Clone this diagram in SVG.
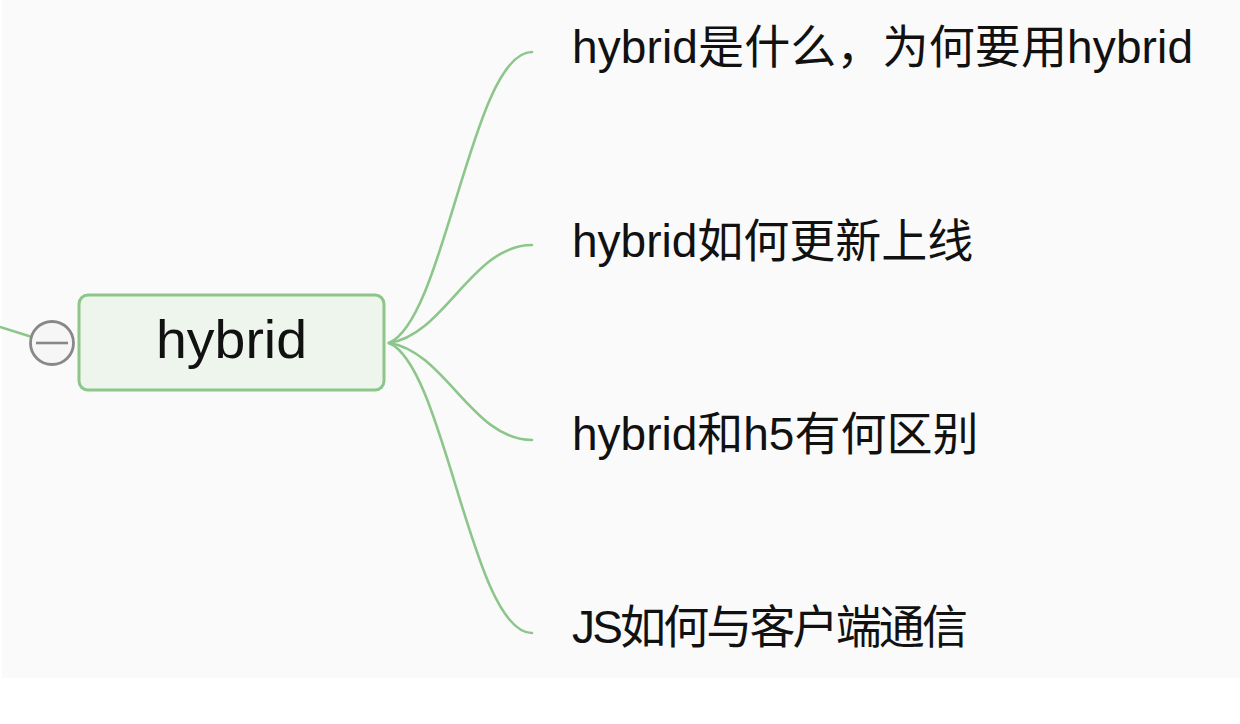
<svg xmlns="http://www.w3.org/2000/svg" width="1240" height="724" viewBox="0 0 1240 724">
  <style>
    .conn { fill: none; stroke: #8cc68a; stroke-width: 2.6; stroke-linecap: round; }
    .label { font-family: "Liberation Sans", "Noto Sans CJK SC", sans-serif; font-size: 46px; fill: #111; }
    .title { font-family: "Liberation Sans", "Noto Sans CJK SC", sans-serif; font-size: 53px; fill: #111; text-anchor: middle; }
  </style>
  <rect x="0" y="0" width="1240" height="724" fill="#ffffff"/>
  <rect x="2" y="0" width="1238" height="678" fill="#fafafa"/>
  <g id="connectors">
    <path class="conn" d="M0,327 L32,337"/>
    <path class="conn" d="M389,343 C445,320 472,52 532,52"/>
    <path class="conn" d="M389,343 C445,335 472,245 532,245"/>
    <path class="conn" d="M389,343 C445,351 472,440 532,440"/>
    <path class="conn" d="M389,343 C445,366 472,633 532,633"/>
  </g>
  <g id="node-hybrid">
    <rect x="79" y="295" width="305" height="95" rx="9" ry="9" fill="#eef5ed" stroke="#8cc68a" stroke-width="3"/>
    <text class="title" x="231.5" y="358" textLength="151" lengthAdjust="spacingAndGlyphs">hybrid</text>
  </g>
  <g id="collapse-toggle">
    <circle cx="52" cy="343" r="21.5" fill="#f6f6f6" stroke="#888888" stroke-width="2.8"/>
    <line x1="36" y1="343" x2="68" y2="343" stroke="#888888" stroke-width="2.6"/>
  </g>
  <g id="node-1">
    <text class="label" x="572" y="63" textLength="621" lengthAdjust="spacing">hybrid是什么，为何要用hybrid</text>
  </g>
  <g id="node-2">
    <text class="label" x="572" y="257">hybrid如何更新上线</text>
  </g>
  <g id="node-3">
    <text class="label" x="572" y="450">hybrid和h5有何区别</text>
  </g>
  <g id="node-4">
    <text class="label" x="572" y="643" textLength="396" lengthAdjust="spacing">JS如何与客户端通信</text>
  </g>
</svg>
